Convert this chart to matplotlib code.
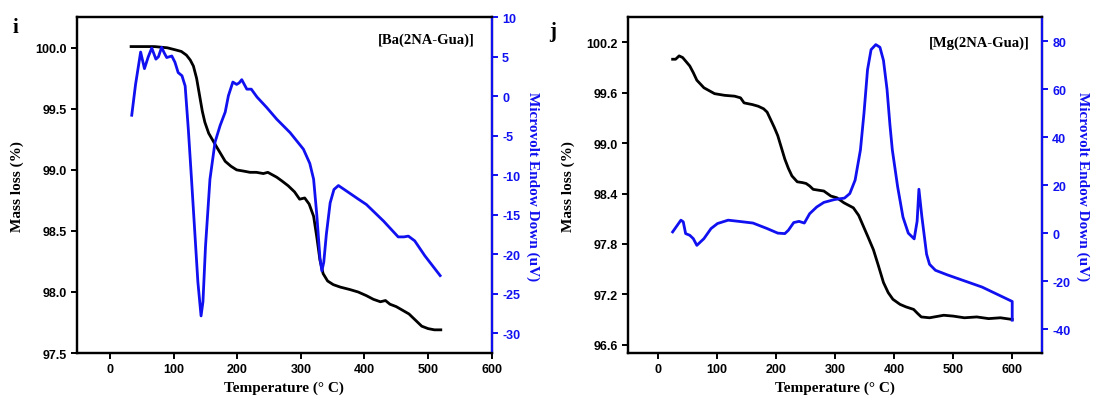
import matplotlib
matplotlib.use("Agg")
import matplotlib.pyplot as plt
from matplotlib.ticker import FormatStrFormatter

# [Ba(2NA-Gua)] - mass loss (TGA) and microvolt signal (DTA)
ba_temp_tga = [33, 50, 70, 90, 105, 112, 120, 126, 131, 136, 141, 145, 149, 155, 165, 173, 181, 190, 199, 210,
               220, 230, 241, 248, 255, 262, 270, 280, 290, 298, 306, 313, 320, 325, 330, 335, 342, 351, 362, 377,
               390, 403, 414, 425, 433, 440, 450, 460, 470, 480, 490, 500, 510, 520]
ba_mass = [100.01, 100.01, 100.01, 100.0, 99.98, 99.97, 99.94, 99.9, 99.85, 99.75, 99.6, 99.48, 99.39, 99.3,
           99.21, 99.14, 99.07, 99.03, 99.0, 98.99, 98.98, 98.98, 98.97, 98.98, 98.96, 98.94, 98.91, 98.87,
           98.82, 98.76, 98.77, 98.72, 98.62, 98.45, 98.26, 98.15, 98.09, 98.06, 98.04, 98.02, 98.0, 97.97,
           97.94, 97.92, 97.93, 97.9, 97.88, 97.85, 97.82, 97.77, 97.72, 97.7, 97.69, 97.69]
ba_temp_dta = [34, 40, 48, 54, 60, 65.5, 72, 76, 81, 85, 89, 97, 102, 107, 113, 118, 123, 128, 133, 138,
               143, 146, 150, 157, 165, 173, 181, 186, 193, 199, 203, 207, 215, 222, 231, 246, 262, 283, 304, 314,
               320, 325, 330, 333, 336, 340, 346, 352, 359, 370, 390, 403, 430, 453, 462, 469, 479, 495, 519]
ba_uv = [-2.4, 1.5, 5.6, 3.5, 5.0, 6.1, 4.7, 5.0, 6.2, 5.5, 4.9, 5.1, 4.3, 3.0, 2.6, 1.3, -4.2, -10.5, -17, -23.5,
         -27.8, -26, -19, -10.5, -5.8, -3.7, -2.0, 0.06, 1.8, 1.5, 1.7, 2.1, 0.9, 0.9, -0.1, -1.4, -2.9, -4.6, -6.7, -8.5,
         -10.5, -15, -20.5, -22.1, -21, -17.5, -13.5, -11.8, -11.3, -11.9, -13.0, -13.7, -15.8, -17.8, -17.8, -17.7,
         -18.3, -20.2, -22.7]

# [Mg(2NA-Gua)]
mg_temp_tga = [25, 30, 36, 42, 48, 54, 60, 66, 78, 96, 113, 130, 140, 146, 160, 170, 179, 185, 191, 197,
               203, 209, 215, 221, 227, 236, 245, 251, 257, 263, 272, 281, 293, 303, 315, 331, 340, 348, 356, 365,
               373, 382, 390, 398, 410, 420, 433, 440, 446, 460, 484, 500, 519, 540, 560, 580, 600]
mg_mass = [100.0, 100.0, 100.04, 100.02, 99.97, 99.92, 99.84, 99.75, 99.66, 99.59, 99.57, 99.56, 99.54, 99.48,
           99.46, 99.44, 99.41, 99.37, 99.28, 99.19, 99.09, 98.95, 98.81, 98.7, 98.61, 98.54, 98.53, 98.52, 98.49,
           98.45, 98.44, 98.43, 98.37, 98.35, 98.29, 98.23, 98.14, 98.01, 97.88, 97.73, 97.55, 97.34, 97.22, 97.14,
           97.08, 97.05, 97.02, 96.97, 96.93, 96.92, 96.95, 96.94, 96.92, 96.93, 96.91, 96.92, 96.9]
mg_temp_dta = [25, 33, 39, 43, 47, 54, 60, 66, 78, 90, 101, 119, 137, 161, 185, 203, 215, 221, 230, 239,
               248, 257, 269, 281, 299, 316, 325, 334, 343, 349, 355, 361, 369, 376, 382, 388, 393, 397, 406, 415,
               424, 434, 439, 442, 447, 455, 460, 470, 490, 549, 600, 600]
mg_uv = [0.5, 3.3, 5.4, 4.7, -0.2, -0.9, -2.3, -5.1, -2.3, 1.9, 4.0, 5.4, 4.9, 4.2, 1.9, 0.0, -0.2, 1.2, 4.4, 4.9,
         4.2, 8.1, 10.9, 12.8, 14.0, 14.6, 16.5, 22.1, 34.7, 50, 68.1, 76.5, 78.6, 77.5, 72, 60, 45, 34.7, 19.3, 6.7,
         0, -2.4, 5, 18.3, 6.9, -8.8, -13, -15.5, -17.4, -22.5, -28.5, -36.3]

plt.rcParams['axes.unicode_minus'] = False
label_font = {'family': 'Liberation Serif', 'weight': 'bold', 'size': 11}
blue = '#1010f0'


def draw_panel(rect, t_tga, mass, t_dta, uv, xlim, ylim, yticks, yfmt, ylim2, yticks2, name, name_xy):
    ax = fig.add_axes(rect)
    ax2 = ax.twinx()

    ax.plot(t_tga, mass, color='black', lw=2)
    ax2.plot(t_dta, uv, color=blue, lw=2)

    ax.set_xlim(*xlim)
    ax.set_ylim(*ylim)
    ax.set_yticks(yticks)
    ax.yaxis.set_major_formatter(FormatStrFormatter(yfmt))
    ax.set_xticks(range(0, 601, 100))
    ax2.set_ylim(*ylim2)
    ax2.set_yticks(yticks2)

    for a in (ax, ax2):
        for s in a.spines.values():
            s.set_linewidth(1.6)
        a.tick_params(width=1.4, length=4)
        for lab in a.get_xticklabels() + a.get_yticklabels():
            lab.set_fontfamily('Liberation Sans')
            lab.set_fontweight('bold')
            lab.set_fontsize(9)
    ax2.spines['right'].set_color(blue)
    ax2.tick_params(axis='y', colors=blue)

    ax.set_xlabel('Temperature (° C)', fontdict=label_font, labelpad=4)
    ax.set_ylabel('Mass loss (%)', fontdict=label_font, labelpad=8)
    ax2.set_ylabel('Microvolt Endow Down (uV)', fontdict=label_font, color=blue, rotation=270, labelpad=14)

    ax.text(name_xy[0], name_xy[1], name, transform=ax.transAxes, ha='right', va='center',
            fontfamily='Liberation Serif', fontweight='bold', fontsize=10.5)


fig = plt.figure(figsize=(10.96, 4.06), dpi=100)

draw_panel([0.0703, 0.128, 0.3783, 0.827], ba_temp_tga, ba_mass, ba_temp_dta, ba_uv,
           (-52, 600), (97.5, 100.25), [97.5, 98.0, 98.5, 99.0, 99.5, 100.0], '%.1f',
           (-32.5, 10), [-30, -25, -20, -15, -10, -5, 0, 5, 10], '[Ba(2NA-Gua)]', (0.96, 0.935))

draw_panel([0.5733, 0.128, 0.3772, 0.827], mg_temp_tga, mg_mass, mg_temp_dta, mg_uv,
           (-50, 650), (96.5, 100.5), [96.6, 97.2, 97.8, 98.4, 99.0, 99.6, 100.2], '%.1f',
           (-50, 90), [-40, -20, 0, 20, 40, 60, 80], '[Mg(2NA-Gua)]', (0.97, 0.926))

fig.text(15 / 1096, 1 - 28 / 406, 'i', fontfamily='Liberation Serif', fontweight='bold', fontsize=15,
         ha='center', va='center')
fig.text(553 / 1096, 1 - 32 / 406, 'j', fontfamily='Liberation Serif', fontweight='bold', fontsize=15,
         ha='center', va='center')

fig.savefig('out.png', dpi=100)
